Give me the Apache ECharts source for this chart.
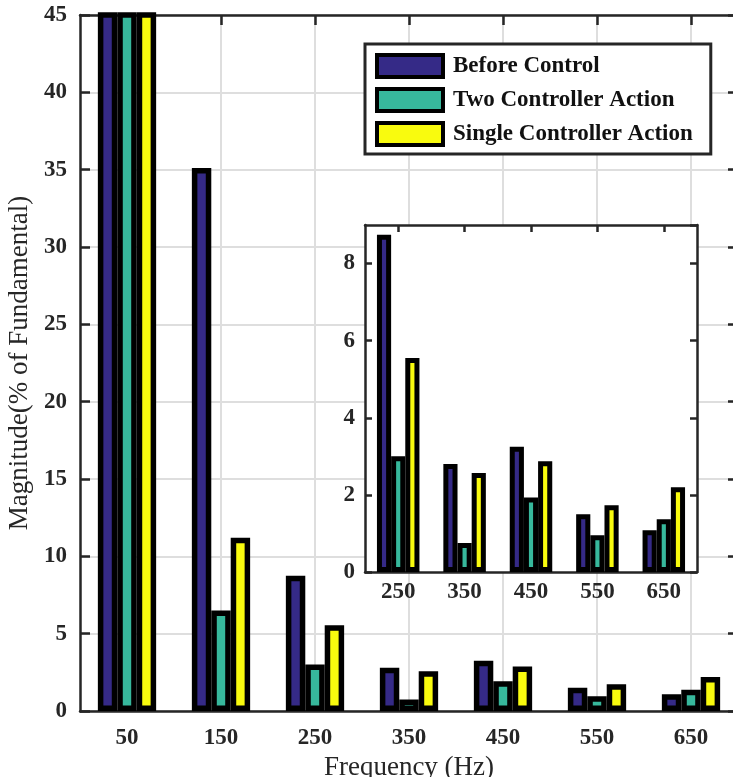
<!DOCTYPE html>
<html>
<head>
<meta charset="utf-8">
<script src="https://cdn.jsdelivr.net/npm/echarts@6/dist/echarts.min.js"></script>
<style>html,body{margin:0;padding:0;background:#fff}#c{width:733px;height:777px}</style>
</head>
<body>
<div id="c"></div>
<script>
// ---- data ----
const categories = ['50', '150', '250', '350', '450', '550', '650'];
const beforeControl = [100, 35.1, 8.75, 2.8, 3.25, 1.5, 1.08];
const twoController = [100, 6.5, 3.0, 0.75, 1.93, 0.95, 1.37];
const singleController = [100, 11.2, 5.55, 2.57, 2.87, 1.73, 2.2];
const insetCategories = ['250', '350', '450', '550', '650'];
const insetStart = 2;
const seriesNames = ['Before Control', 'Two Controller Action', 'Single Controller Action'];
const mainYTicks = { min: 0, max: 45, interval: 5 };
const insetYTicks = { min: 0, max: 9, interval: 2 };

// ---- style ----
const colors = ['#352a87', '#37b89c', '#f9fb0e'];
const FONT = 'Liberation Serif';
const AX = '#262626';
const chart = echarts.init(document.getElementById('c'), null, { renderer: 'canvas' });

const tickLabel = { color: AX, fontFamily: FONT, fontWeight: 'bold', fontSize: 23 };
const boxLine = { show: true, onZero: false, lineStyle: { color: AX, width: 2.5 } };

function barSeries(name, data, xi, yi, idx, gap, bw, z) {
  return {
    type: 'bar', name: name, data: data, xAxisIndex: xi, yAxisIndex: yi,
    barGap: '0%', barCategoryGap: gap, clip: true, z: z,
    itemStyle: { color: colors[idx], borderColor: '#000', borderWidth: bw },
    emphasis: { disabled: true }, animation: false
  };
}

const option = {
  animation: false,
  grid: [
    { left: 80, top: 15, width: 658, height: 696, show: false, outerBoundsMode: 'none', containLabel: false },
    { left: 365, top: 225, width: 332, height: 347, show: true, backgroundColor: '#fff', borderWidth: 0, z: 2, outerBoundsMode: 'none', containLabel: false }
  ],
  legend: {
    data: seriesNames,
    orient: 'vertical', left: 365, top: 44,
    icon: 'rect', itemWidth: 66, itemHeight: 22, itemGap: 8,
    backgroundColor: '#fff', borderColor: AX, borderWidth: 3,
    padding: [9, 18, 7, 10],
    itemStyle: { borderColor: '#000', borderWidth: 4 },
    textStyle: { color: '#111', fontFamily: FONT, fontWeight: 'bold', fontSize: 23, padding: [0, 0, 0, 5] },
    selectedMode: false, z: 10
  },
  xAxis: [
    {
      type: 'category', data: categories, gridIndex: 0, position: 'bottom',
      axisLine: boxLine,
      axisTick: { show: true, inside: true, alignWithLabel: true, length: 10, lineStyle: { color: AX, width: 2.5 } },
      axisLabel: Object.assign({ margin: 16 }, tickLabel),
      splitLine: { show: true, alignWithLabel: true, lineStyle: { color: '#dedede', width: 2 } },
      name: 'Frequency (Hz)', nameLocation: 'middle', nameGap: 41,
      nameTextStyle: { color: AX, fontFamily: FONT, fontSize: 27 }
    },
    {
      type: 'category', data: categories, gridIndex: 0, position: 'top',
      axisLine: boxLine,
      axisTick: { show: true, inside: true, alignWithLabel: true, length: 10, lineStyle: { color: AX, width: 2.5 } },
      axisLabel: { show: false }, splitLine: { show: false }
    },
    {
      type: 'category', data: insetCategories, gridIndex: 1, position: 'bottom', z: 3,
      axisLine: boxLine,
      axisTick: { show: true, inside: true, alignWithLabel: true, length: 7, lineStyle: { color: AX, width: 2.5 } },
      axisLabel: Object.assign({ margin: 9 }, tickLabel),
      splitLine: { show: false }
    },
    {
      type: 'category', data: insetCategories, gridIndex: 1, position: 'top', z: 3,
      axisLine: boxLine,
      axisTick: { show: true, inside: true, alignWithLabel: true, length: 7, lineStyle: { color: AX, width: 2.5 } },
      axisLabel: { show: false }, splitLine: { show: false }
    }
  ],
  yAxis: [
    {
      type: 'value', gridIndex: 0, position: 'left',
      min: mainYTicks.min, max: mainYTicks.max, interval: mainYTicks.interval,
      axisLine: boxLine,
      axisTick: { show: true, inside: true, length: 10, lineStyle: { color: AX, width: 2.5 } },
      axisLabel: Object.assign({ margin: 13 }, tickLabel),
      splitLine: { show: true, lineStyle: { color: '#dedede', width: 2 } },
      name: 'Magnitude(% of Fundamental)', nameLocation: 'middle', nameGap: 46,
      nameTextStyle: { color: AX, fontFamily: FONT, fontSize: 27 }
    },
    {
      type: 'value', gridIndex: 0, position: 'right',
      min: mainYTicks.min, max: mainYTicks.max, interval: mainYTicks.interval,
      axisLine: boxLine,
      axisTick: { show: true, inside: true, length: 10, lineStyle: { color: AX, width: 2.5 } },
      axisLabel: { show: false }, splitLine: { show: false }
    },
    {
      type: 'value', gridIndex: 1, position: 'left', z: 3,
      min: insetYTicks.min, max: insetYTicks.max, interval: insetYTicks.interval,
      axisLine: boxLine,
      axisTick: { show: true, inside: true, length: 7, lineStyle: { color: AX, width: 2.5 } },
      axisLabel: Object.assign({ margin: 10, showMaxLabel: false }, tickLabel),
      splitLine: { show: false }
    },
    {
      type: 'value', gridIndex: 1, position: 'right', z: 3,
      min: insetYTicks.min, max: insetYTicks.max, interval: insetYTicks.interval,
      axisLine: boxLine,
      axisTick: { show: true, inside: true, length: 7, lineStyle: { color: AX, width: 2.5 } },
      axisLabel: { show: false }, splitLine: { show: false }
    }
  ],
  series: [
    barSeries(seriesNames[0], beforeControl, 0, 0, 0, '38%', 5.5, 2),
    barSeries(seriesNames[1], twoController, 0, 0, 1, '38%', 5.5, 2),
    barSeries(seriesNames[2], singleController, 0, 0, 2, '38%', 5.5, 2),
    barSeries(seriesNames[0], beforeControl.slice(insetStart), 2, 2, 0, '36%', 5, 4),
    barSeries(seriesNames[1], twoController.slice(insetStart), 2, 2, 1, '36%', 5, 4),
    barSeries(seriesNames[2], singleController.slice(insetStart), 2, 2, 2, '36%', 5, 4)
  ]
};
chart.setOption(option);
</script>
</body>
</html>
